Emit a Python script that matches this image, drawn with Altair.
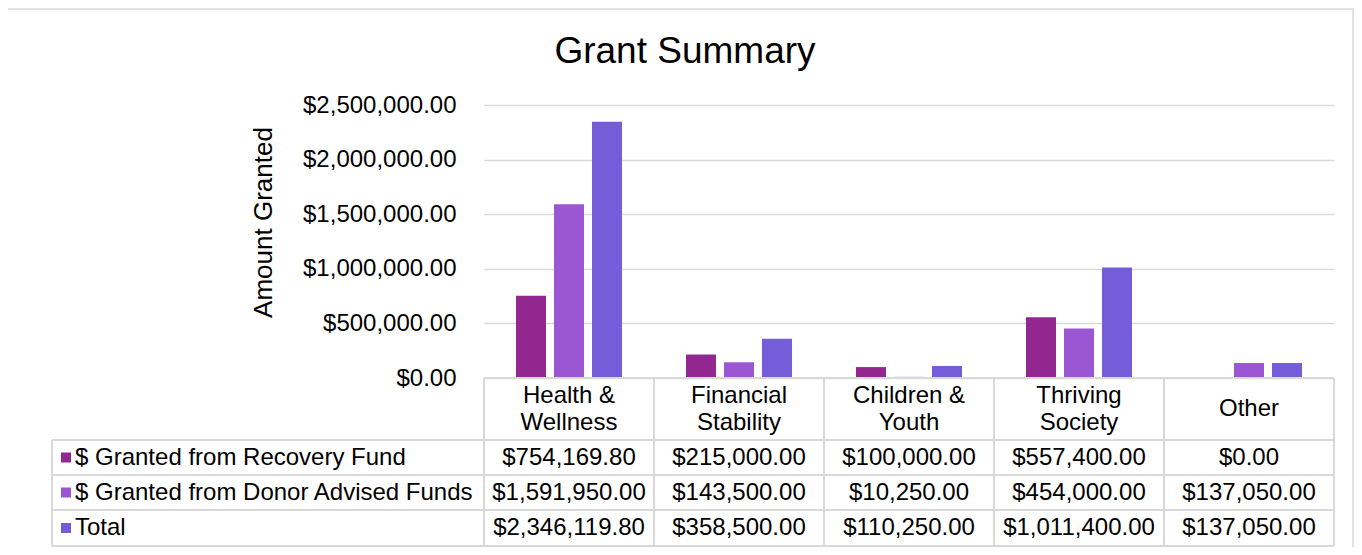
import altair as alt
import pandas as pd

# ---- data ----
categories = ["Health & Wellness", "Financial Stability", "Children & Youth", "Thriving Society", "Other"]
header_labels = ["Health &\nWellness", "Financial\nStability", "Children &\nYouth", "Thriving\nSociety", "Other"]
series = ["$ Granted from Recovery Fund", "$ Granted from Donor Advised Funds", "Total"]
recovery = [754169.80, 215000.00, 100000.00, 557400.00, 0.00]
donor = [1591950.00, 143500.00, 10250.00, 454000.00, 137050.00]
total = [2346119.80, 358500.00, 110250.00, 1011400.00, 137050.00]
y_ticks = [0, 500000, 1000000, 1500000, 2000000, 2500000]
title_text = "Grant Summary"
y_title = "Amount Granted"

# ---- styles / layout ----
colors = ["#92278F", "#9B57D3", "#755DD9"]
FONT = "Liberation Sans"
TXT = "#000000"
LINE = "#d9d9d9"
W, H = 850, 273
row_centers = [352.5, 387.5, 423]
row_lines = [335, 370, 405, 441]
left_x = -432

rows = []
for s, vals in zip(series, [recovery, donor, total]):
    for c, v in zip(categories, vals):
        rows.append({"category": c, "series": s, "value": v})
df = pd.DataFrame(rows)
df_cat = pd.DataFrame({"category": categories, "label": header_labels,
                       "multi": ["\n" in l for l in header_labels]})
dummy = pd.DataFrame({"d": [0]})

x_scale = alt.Scale(domain=categories, paddingInner=0, paddingOuter=0)
color_scale = alt.Scale(domain=series, range=colors)

def X(**kw):
    return alt.X("category:N", scale=x_scale, axis=None, sort=categories, **kw)

bars = alt.Chart(df).mark_bar().encode(
    x=X(),
    xOffset=alt.XOffset("series:N", sort=series,
                        scale=alt.Scale(domain=series, paddingInner=0.2105, paddingOuter=0.842)),
    y=alt.Y("value:Q", scale=alt.Scale(domain=[0, 2500000], nice=False),
            axis=alt.Axis(values=y_ticks, format="$,.2f", title=y_title, grid=True,
                          gridColor=LINE, gridWidth=1.5, domain=False, ticks=False,
                          labelPadding=28, labelFontSize=24, labelFont=FONT, labelColor=TXT,
                          titleFontSize=26, titleFont=FONT, titleColor=TXT, titleFontWeight="normal",
                          titleX=-221, titleY=117, titleAngle=-90, titleAlign="center",
                          titleBaseline="middle")),
    color=alt.Color("series:N", scale=color_scale, legend=None),
)

layers = []

# outer chart border
layers.append(alt.Chart(dummy).mark_rect(fillOpacity=0, stroke=LINE, strokeWidth=1.5).encode(
    x=alt.value(-477), x2=alt.value(869), y=alt.value(-96), y2=alt.value(470)))

layers.append(bars)

# table: vertical column lines
layers.append(alt.Chart(df_cat).mark_rule(color=LINE, strokeWidth=2).encode(
    x=X(bandPosition=0), y=alt.value(H), y2=alt.value(row_lines[-1])))
layers.append(alt.Chart(df_cat).transform_filter(alt.datum.category == categories[-1]).mark_rule(
    color=LINE, strokeWidth=2).encode(
    x=X(bandPosition=1), y=alt.value(H), y2=alt.value(row_lines[-1])))
# left edge of label column
layers.append(alt.Chart(dummy).mark_rule(color=LINE, strokeWidth=2).encode(
    x=alt.value(left_x), y=alt.value(row_lines[0]), y2=alt.value(row_lines[-1])))
# horizontal lines
layers.append(alt.Chart(dummy).mark_rule(color=LINE, strokeWidth=2).encode(
    x=alt.value(0), x2=alt.value(W), y=alt.value(H)))
for yl in row_lines:
    layers.append(alt.Chart(dummy).mark_rule(color=LINE, strokeWidth=2).encode(
        x=alt.value(left_x), x2=alt.value(W), y=alt.value(yl)))

# header labels (two-line and single-line)
layers.append(alt.Chart(df_cat).transform_filter(alt.datum.multi).mark_text(
    lineBreak="\n", fontSize=24, font=FONT, color=TXT, baseline="middle", lineHeight=27).encode(
    x=X(), y=alt.value(290.5), text="label:N"))
layers.append(alt.Chart(df_cat).transform_filter(~alt.datum.multi).mark_text(
    fontSize=24, font=FONT, color=TXT, baseline="middle").encode(
    x=X(), y=alt.value(304), text="label:N"))

# rows
for i, s in enumerate(series):
    sub = df[df.series == s]
    layers.append(alt.Chart(sub).mark_text(fontSize=24, font=FONT, color=TXT, baseline="middle").encode(
        x=X(), y=alt.value(row_centers[i]), text=alt.Text("value:Q", format="$,.2f")))
    lab = pd.DataFrame({"series": [s]})
    layers.append(alt.Chart(lab).mark_square(size=100, opacity=1, filled=True).encode(
        x=alt.value(-418), y=alt.value(row_centers[i]),
        color=alt.Color("series:N", scale=color_scale, legend=None)))
    layers.append(alt.Chart(lab).mark_text(fontSize=24, font=FONT, color=TXT, align="left",
                                           baseline="middle").encode(
        x=alt.value(-409), y=alt.value(row_centers[i]), text="series:N"))

# title
layers.append(alt.Chart(pd.DataFrame({"t": [title_text]})).mark_text(
    fontSize=37, font=FONT, color=TXT, align="center", baseline="alphabetic").encode(
    x=alt.value(201), y=alt.value(-42), text="t:N"))

chart = alt.layer(*layers).properties(
    width=W, height=H,
    autosize=alt.AutoSizeParams(type="none"),
    padding={"left": 476, "top": 97, "right": 20, "bottom": 169},
).configure(background="white").configure_view(stroke=None, strokeWidth=0)

chart.save("out.html", embed_options={"renderer": "svg", "actions": False})
